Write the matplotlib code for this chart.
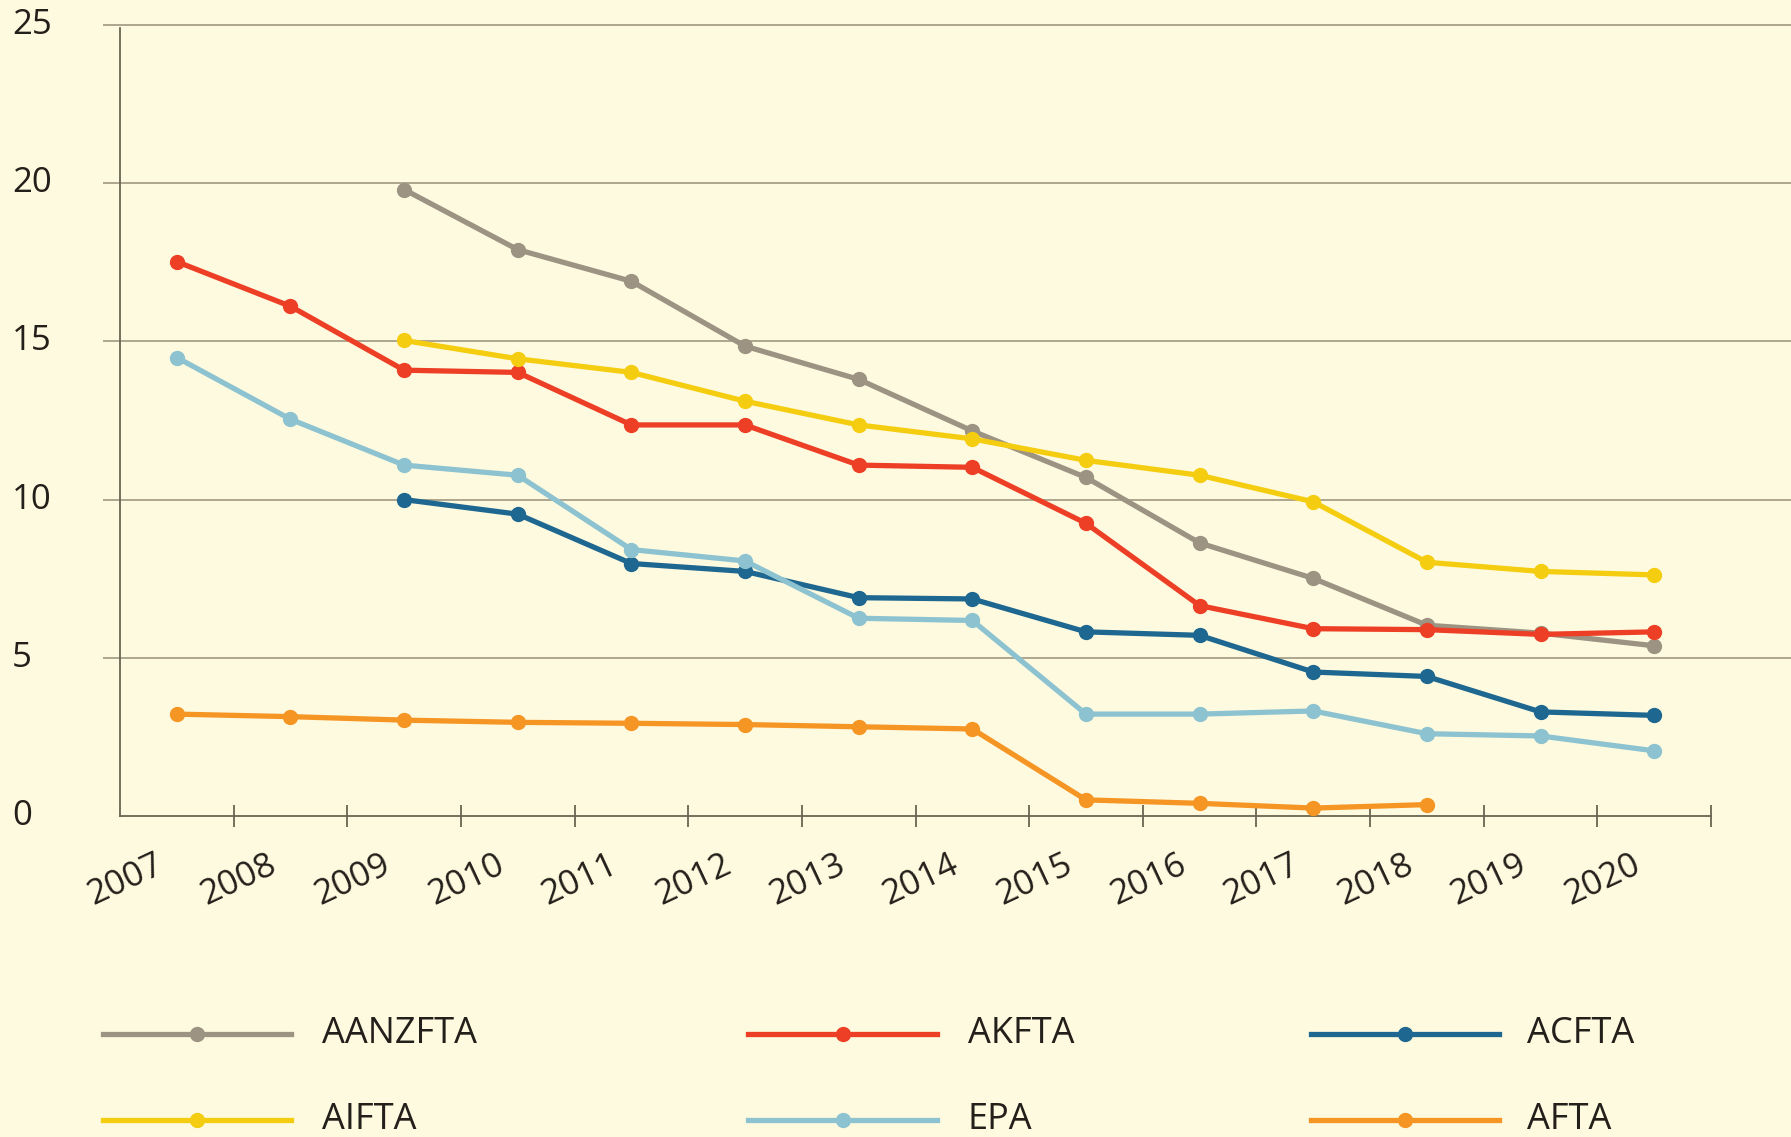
import matplotlib
matplotlib.use("Agg")
import matplotlib.pyplot as plt
import matplotlib.transforms as mtransforms
from matplotlib.lines import Line2D
import numpy as np

years = [str(y) for y in range(2007, 2021)]
series_names = ["AANZFTA", "AKFTA", "ACFTA", "AIFTA", "EPA", "AFTA"]
series_colors = ["#9C9383", "#EC3F26", "#1D6790", "#F5CD10", "#8DC3D0", "#F59524"]

N = None
aanzfta = [N, N, 19.8, 17.9, 16.9, 14.85, 13.8, 12.17, 10.7, 8.63, 7.51, 6.03, 5.78, 5.38]
akfta = [17.52, 16.11, 14.09, 14.02, 12.36, 12.36, 11.09, 11.02, 9.25, 6.65, 5.92, 5.89, 5.74, 5.82]
acfta = [N, N, 10.0, 9.54, 7.98, 7.73, 6.9, 6.86, 5.82, 5.71, 4.55, 4.41, 3.29, 3.18]
aifta = [N, N, 15.03, 14.45, 14.02, 13.11, 12.36, 11.92, 11.24, 10.77, 9.93, 8.02, 7.73, 7.62]
epa = [14.49, 12.54, 11.09, 10.77, 8.42, 8.06, 6.25, 6.18, 3.22, 3.22, 3.32, 2.6, 2.53, 2.06]
afta = [3.22, 3.14, 3.03, 2.96, 2.93, 2.89, 2.82, 2.75, 0.51, 0.40, 0.25, 0.36, N, N]
series_values = [aanzfta, akfta, acfta, aifta, epa, afta]
yticks = [0, 5, 10, 15, 20, 25]

BG = "#FEFADF"
TXT = "#231F1A"
AX = "#6B6452"
plt.rcParams['font.family'] = ["Open Sans", "DejaVu Sans"]

W, H = 1791, 1137
fig = plt.figure(figsize=(W / 100, H / 100), dpi=100, facecolor=BG)
ax = fig.add_axes([120 / W, 1 - 816 / H, (W - 120) / W, (816 - 25) / H])
ax.set_facecolor(BG)

x = np.arange(len(years))
ax.set_xlim(-0.5, -0.5 + (W - 120) / ((1711 - 120) / 14))
ax.set_ylim(0, 25)

# gridlines
x_right = ax.get_xlim()[1]
ax.hlines(yticks[1:], -0.5 - 0.15, x_right, colors="#A89F88", linewidth=1.3, zorder=1, clip_on=False)

for vals, col in zip(series_values, series_colors):
    y = np.array([np.nan if v is None else v for v in vals], dtype=float)
    ax.plot(x, y, color=col, linewidth=3.8, marker="o", markersize=10, zorder=3,
            solid_capstyle="round")

for s in ["top", "right"]:
    ax.spines[s].set_visible(False)
ax.spines["left"].set_color(AX)
ax.spines["bottom"].set_color(AX)
ax.spines["left"].set_linewidth(1.3)
ax.spines["bottom"].set_linewidth(1.3)
ax.spines["bottom"].set_bounds(-0.5, 13.5)
ax.spines["left"].set_bounds(0, 24.9)

ax.set_xticks(x)
ax.set_xticklabels([])
ax.tick_params(axis="x", which="major", length=0)
ax.set_xticks(np.arange(0.5, 14, 1.0), minor=True)
ax.tick_params(axis="x", which="minor", length=16, direction="inout", width=1.3, color=AX)
ax.set_yticks(yticks)
ax.set_yticklabels([])
ax.tick_params(axis="y", length=0)

# y labels, left aligned near figure edge
ty = mtransforms.blended_transform_factory(fig.transFigure, ax.transData)
for v in yticks:
    fig.text(12 / W, v, str(v), transform=ty, ha="left", va="center",
             fontsize=25, color=TXT)

# x labels rotated
tx = mtransforms.blended_transform_factory(ax.transData, ax.transAxes)
for i, lab in enumerate(years):
    ax.text(i - 0.2, -0.04, lab, transform=tx, rotation=25, rotation_mode="anchor",
            ha="right", va="top", fontsize=25, color=TXT)

# manual legend
rows = [1034 / H, 1120 / H]
cols = [(103, 291, 322), (748, 937, 968), (1311, 1499, 1527)]
for k, (name, col) in enumerate(zip(series_names, series_colors)):
    r, c = divmod(k, 3)
    x0, x1, xt = cols[c]
    yy = 1 - rows[r]
    fig.add_artist(Line2D([x0 / W, x1 / W], [yy, yy], color=col, linewidth=3.8,
                          transform=fig.transFigure))
    fig.add_artist(Line2D([(x0 + x1) / 2 / W], [yy], color=col, marker="o", markersize=10,
                          transform=fig.transFigure))
    fig.text(xt / W, yy, name, ha="left", va="center", fontsize=26, color=TXT)

fig.savefig("out.png", dpi=100, facecolor=BG)
